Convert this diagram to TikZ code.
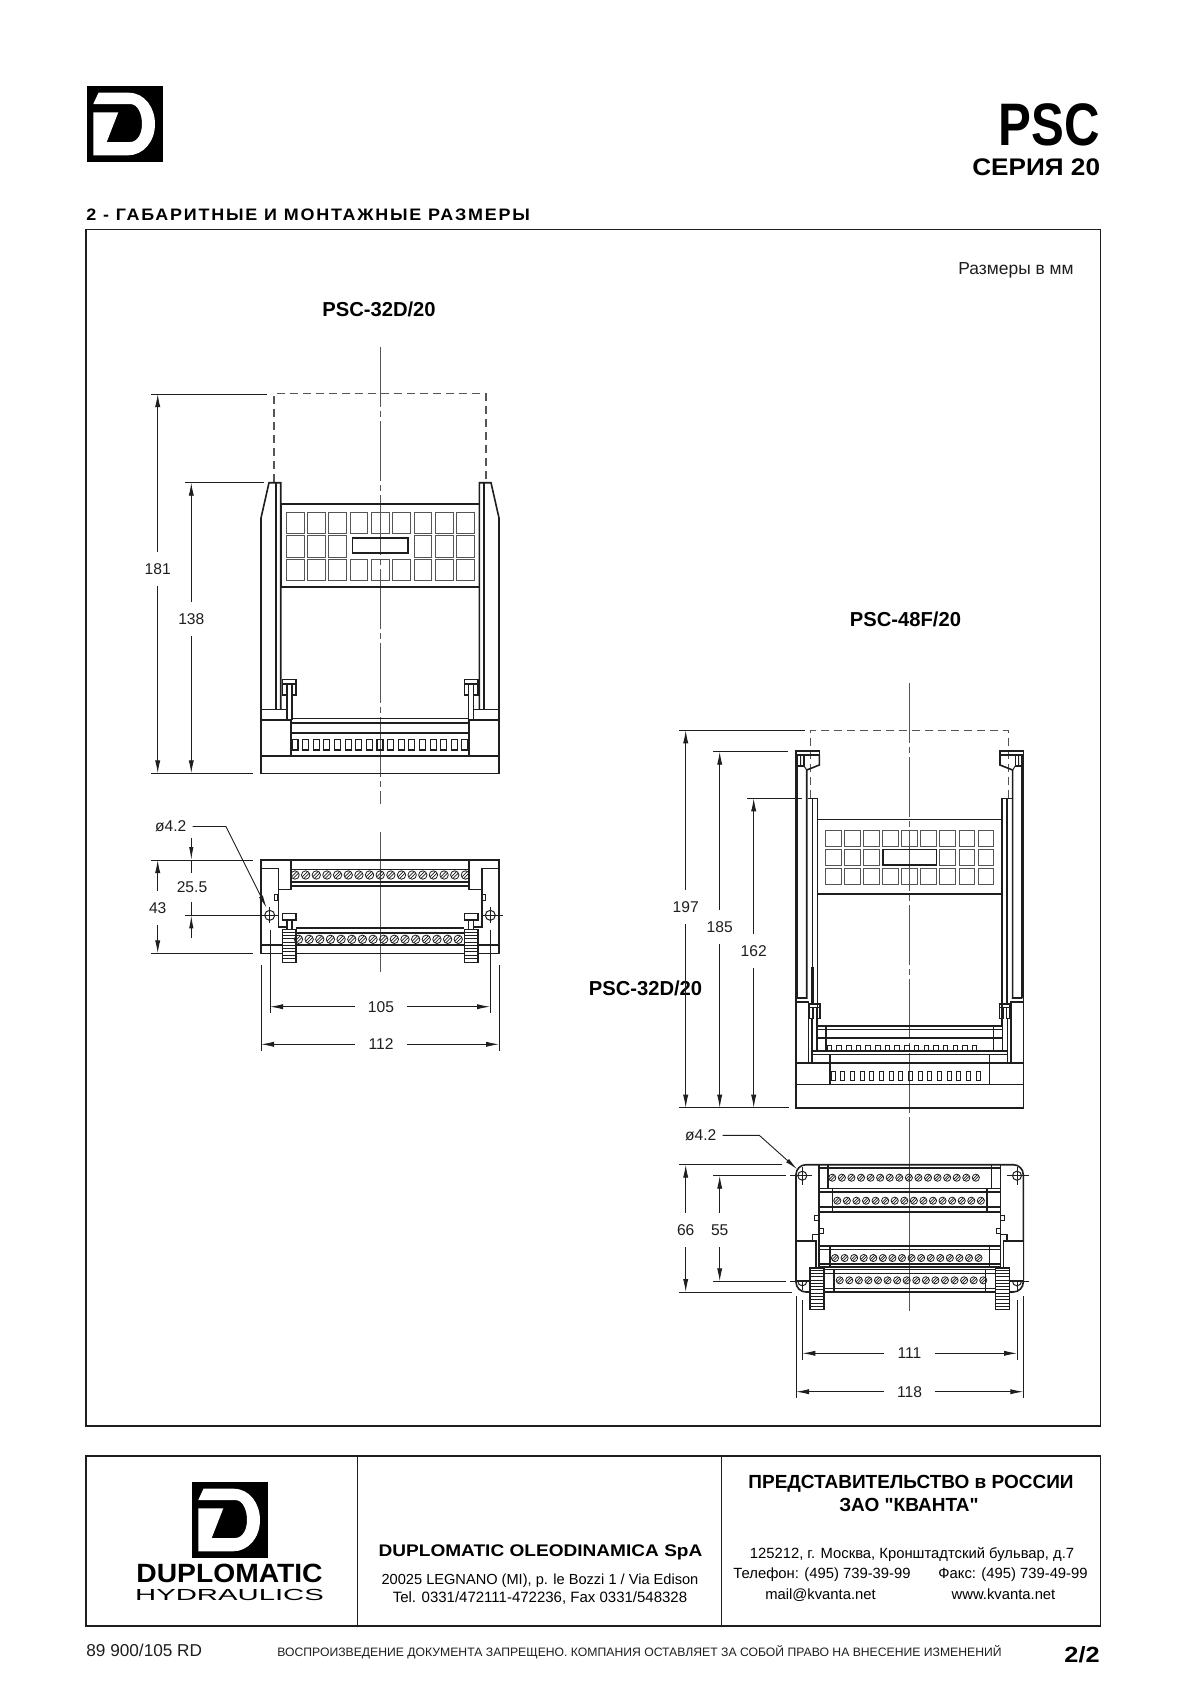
\documentclass[tikz,border=0pt]{standalone}
\usepackage{fontspec}
\setmainfont[Ligatures=TeXOff]{Liberation Sans}
\usetikzlibrary{arrows.meta}
\definecolor{inkc}{HTML}{1E1E1E}
\definecolor{cellc}{HTML}{555555}
\tikzset{
  frameline/.style={draw=inkc,line width=.65pt},
  body/.style={draw=inkc,line width=.8pt},
  fine/.style={draw=inkc,line width=.5pt},
  cell/.style={draw=cellc,line width=.5pt},
  axisline/.style={draw=cellc,line width=.45pt,dash pattern=on 30pt off 2pt on 3pt off 2pt},
  hidden/.style={draw=cellc,line width=.55pt,dash pattern=on 4pt off 2.5pt},
  extline/.style={draw=inkc,line width=.45pt},
  dimline/.style={draw=inkc,line width=.45pt,{Latex[length=6.5pt,width=2.6pt]}-},
  leader/.style={draw=inkc,line width=.45pt,-{Latex[length=6.5pt,width=2.2pt]}},
  dimtext/.style={font=\fontsize{7.8}{9}\selectfont,text=inkc,inner xsep=6.5pt,inner ysep=5.7pt},
  leadtext/.style={font=\fontsize{7.8}{9}\selectfont,text=inkc,inner xsep=3pt,inner ysep=1pt},
  model/.style={font=\bfseries\fontsize{10.1}{12}\selectfont,inner sep=0pt},
  screw/.pic={
    \draw[fine,line width=.4pt] (0,0) circle (4.2);
    \draw[fine,line width=.35pt] (-3.6,2) -- (2,-3.6) (-2,3.6) -- (3.6,-2);
  },
  dlogo/.pic={
    \fill[black] (87,86) rectangle (162.5,162);
    \fill[white] (98.5,92.7) -- (128.5,92.7) .. controls (145,92.7) and (155,108) .. (155,124)
      .. controls (155,142) and (143,155.3) .. (128,155.3) -- (93.3,155.3) -- (93.3,112.3)
      -- (118.3,112.3) -- (106.7,142) -- (130,142) .. controls (138,142) and (142,133) .. (142,124)
      .. controls (142,114) and (138,104) .. (130,104) -- (93.3,104) -- cycle;
  }
}
\begin{document}
\begin{tikzpicture}[x=.5pt,y=-.5pt]
  \useasboundingbox (0,0) rectangle (1200,1698);
  \fill[white] (0,0) rectangle (1200,1698);

  % header
  \pic at (0,0) {dlogo};
  \node (psc) [anchor=base east,inner sep=0pt,font=\bfseries\fontsize{30}{32}\selectfont] at (1100.5,145) {\scalebox{.82}[1]{PSC}};
  \node (series) [anchor=base east,inner sep=0pt,font=\bfseries\fontsize{12}{14}\selectfont] at (1100.5,175.5) {\scalebox{1.09}[1]{СЕРИЯ 20}};
  \node (title) [anchor=base west,inner sep=0pt,font=\bfseries\fontsize{8.3}{10}\selectfont] at (86,220.5) {\scalebox{1.08}[1]{\addfontfeatures{LetterSpace=10}2 - ГАБАРИТНЫЕ И МОНТАЖНЫЕ РАЗМЕРЫ}};
  \draw[frameline] (86,229.5) rectangle (1100.5,1426);
  \node (units) [anchor=base east,inner sep=0pt,font=\fontsize{8.7}{10}\selectfont,text=inkc] at (1074,274) {Размеры в мм};
  \node (m32a) [model] at (379,309) {PSC-32D/20};
  \node (m48f) [model] at (905.5,619) {PSC-48F/20};
  \node (m32b) [model] at (645.5,988) {PSC-32D/20};

  % PSC-32D/20, front view
  \draw[axisline] (380,347) -- (380,804);
  \draw[hidden] (274,481.7) -- (274,393.7) -- (486,393.7) -- (486,481.7);
  \draw[body] (280.7,504) rectangle (479.3,586.7);
  \foreach \i in {0,...,8}
    \foreach \ry in {512.3,559.3}
      \draw[cell] ({286.3+\i*21.3},\ry) rectangle ++(17.7,21.3);
  \foreach \i in {0,1,2,6,7,8}
    \draw[cell] ({286.3+\i*21.3},535.7) rectangle ++(17.7,21.3);
  \draw[body] (352.3,538) rectangle (407.7,553);
  \foreach \mir/\off in {1/0,-1/760} {
  \begin{scope}[shift={(\off,0)},xscale=\mir]
    \draw[body] (261,756) -- (261,518) -- (269,482.7) -- (280.7,482.7) -- (280.7,709.3);
    \draw[body] (276,482.7) -- (276,709.3);
    \draw[body] (261,709.3) -- (286.7,709.3) -- (286.7,720);
    \draw[body] (261,720) -- (291,720) -- (291,756);
    \draw[body] (282.3,679.3) rectangle (295.7,684);
    \draw[body] (282.3,684) rectangle (286.7,695);
    \draw[body] (291.7,684) rectangle (295.7,695);
    \draw[body] (286.7,695) -- (286.7,709.3) (291.7,695) -- (291.7,720);
  \end{scope}
  }
  \draw[body] (291,718.3) -- (469,718.3) (291,722.7) -- (469,722.7) (291,732.7) -- (469,732.7);
  \draw[body] (261,756) rectangle (499,773.3);
  \foreach \i in {0,...,16}
    \draw[body,line width=.55pt] ({292+\i*10.62},739.3) rectangle ++(6,10.7);

  % PSC-32D/20, lower view
  \draw[axisline,dash pattern=on 100pt off 2pt] (380,832) -- (380,972);
  \draw[body] (261,860) rectangle (499,953.3);
  \foreach \mir/\off in {1/0,-1/760} {
  \begin{scope}[shift={(\off,0)},xscale=\mir]
    \draw[body] (261,868.3) -- (278.3,868.3) -- (278.3,926.7) -- (286.7,926.7);
    \draw[body] (291,860) -- (291,889.3) -- (278.3,889.3);
    \draw[body] (261,945) -- (282.3,945);
    \draw[fine] (274.3,894) rectangle (277.7,900);
    \draw[fine] (269.7,915.3) circle (5);
    \draw[extline] (257,915.3) -- (278,915.3) (269.7,907) -- (269.7,923);
    \draw[body] (282.3,913.3) rectangle (295.7,920);
    \draw[body] (286.7,920) -- (286.7,929.3) (291.7,920) -- (291.7,929.3);
    \draw[body,fill=white] (282.3,929.3) rectangle (295.7,962.3);
    \foreach \r in {0,...,8}
      \draw[fine,line width=.35pt] (283,{932+\r*3.3}) -- (295,{932+\r*3.3});
    \draw[extline] (270,930) -- (270,1012.7);
    \draw[extline] (261,965) -- (261,1050.7);
  \end{scope}
  }
  \draw[body] (291,869.3) -- (469,869.3) (291,882) -- (469,882) (291,886) -- (469,886);
  \draw[body] (295.7,927.7) -- (464.3,927.7) (295.7,933) -- (464.3,933) (295.7,945) -- (464.3,945);
  \foreach \i in {0,...,16}
    \pic at ({295+\i*10.65},875) {screw};
  \foreach \i in {0,...,15}
    \pic at ({298.5+\i*10.65},939.3) {screw};

  % PSC-48F/20, front view
  \draw[axisline] (909.6,683) -- (909.6,1127);
  \draw[hidden] (810.7,798) -- (810.7,730.3) -- (1008.6,730.3) -- (1008.6,798);
  \draw[body] (817.3,819.3) rectangle (1002,893.7);
  \foreach \i in {0,...,8}
    \foreach \ry in {830.3,868.3}
      \draw[cell] ({825.3+\i*19.1},\ry) rectangle ++(15.7,16.3);
  \foreach \i in {0,1,2,6,7,8}
    \draw[cell] ({825.3+\i*19.1},849.3) rectangle ++(15.7,16.3);
  \draw[body] (882.7,849.3) rectangle (936.5,865);
  \foreach \mir/\off in {1/0,-1/1819.3} {
  \begin{scope}[shift={(\off,0)},xscale=\mir]
    \draw[body,line width=1.3pt] (797,762) -- (797,998);
    \draw[body] (796,751) rectangle (819.3,755);
    \draw[body] (796,755) -- (796,1107.7);
    \draw[body] (819.3,755) -- (819.3,765) -- (806.7,770) -- (806.7,998) -- (797,998);
    \draw[body] (797.3,755) rectangle (804,766);
    \draw[fine] (800.7,755) -- (800.7,766) (804,766) -- (806.7,770);
    \draw[body] (807.7,798.3) -- (817.3,798.3) -- (817.3,1026);
    \draw[body] (812.3,798.3) -- (812.3,1004);
    \draw[body,line width=1.3pt] (812.3,966.7) -- (812.3,1004);
    \draw[body] (796,1001.7) -- (808.3,1001.7) -- (808.3,1062.7);
    \draw[body] (809.3,1004) rectangle (820,1007.3);
    \draw[body] (809.3,1007.3) rectangle (813,1018.3);
    \draw[body] (816.3,1007.3) rectangle (820,1018.3);
    \draw[body] (811.7,1018.3) -- (811.7,1062.7) (816.7,1018.3) -- (816.7,1051);
    \draw[body] (825.7,1026) -- (825.7,1051);
    \draw[body] (830,1054.3) -- (830,1084.3);
  \end{scope}
  }
  \draw[body] (816.7,1026) -- (1002.6,1026) (816.7,1029.3) -- (1002.6,1029.3) (816.7,1037.7) -- (1002.6,1037.7);
  \draw[body] (811.7,1051) -- (1007.6,1051) (811.7,1054.3) -- (1007.6,1054.3);
  \draw[body] (796,1062.7) -- (1023.3,1062.7);
  \draw[body] (796,1084.3) rectangle (1023.3,1107.7);
  \foreach \i in {0,...,15} {
    \draw[body,line width=.5pt] ({827.3+\i*9.67},1045) rectangle ++(4.6,6);
    \draw[body,line width=.5pt] ({831+\i*9.67},1071.3) rectangle ++(4,9.5);
  }

  % PSC-48F/20, lower view
  \draw[axisline,dash pattern=on 100pt off 2pt] (909.6,1122) -- (909.6,1311);
  \draw[body,rounded corners=5pt] (796,1164.7) rectangle (1023.3,1292);
  \foreach \mir/\off in {1/0,-1/1819.3} {
  \begin{scope}[shift={(\off,0)},xscale=\mir]
    \draw[body] (819,1164.7) -- (819,1266.7);
    \draw[body] (827.7,1164.7) -- (827.7,1188.3);
    \draw[body] (832.3,1188.3) -- (832.3,1211.7);
    \draw[body] (830,1245.7) -- (830,1266.7);
    \draw[body] (834,1269.3) -- (834,1292);
    \draw[fine] (814.7,1215.7) rectangle (818.7,1220);
    \draw[fine] (819.3,1228) rectangle (823.3,1233);
    \draw[fine] (802.3,1175.7) circle (4.5);
    \draw[fine] (802.3,1281.3) circle (4.5);
    \draw[extline] (790,1175.7) -- (812,1175.7) (802.3,1167) -- (802.3,1185);
    \draw[extline] (790,1281.3) -- (812,1281.3) (802.3,1270) -- (802.3,1290);
    \draw[body,fill=white] (796,1240.7) -- (815.7,1240.7) -- (815.7,1281) -- (796,1281) -- cycle;
    \draw[body] (815.7,1240.7) -- (812.3,1240.7) -- (812.3,1234.3) -- (819,1234.3);
    \draw[body,fill=white] (810,1267.7) rectangle (824,1309.3);
    \foreach \r in {0,...,11}
      \draw[fine,line width=.35pt] (810.7,{1270+\r*3.3}) -- (823.3,{1270+\r*3.3});
    \draw[extline] (796,1296) -- (796,1397.7);
    \draw[extline] (802.3,1300) -- (802.3,1360);
  \end{scope}
  }
  \draw[body] (819,1167.7) -- (1000.3,1167.7) (819,1188.3) -- (1000.3,1188.3) (819,1192) -- (1000.3,1192);
  \draw[body] (819,1206.7) -- (1000.3,1206.7) (819,1211.7) -- (1000.3,1211.7);
  \draw[body] (819,1245.7) -- (1000.3,1245.7) (819,1249.3) -- (1000.3,1249.3);
  \draw[body] (819,1264) -- (1000.3,1264) (819,1266.7) -- (1000.3,1266.7);
  \draw[body] (824,1269.3) -- (995.3,1269.3) (824,1273.3) -- (995.3,1273.3) (824,1288.3) -- (995.3,1288.3);
  \foreach \i in {0,...,15} {
    \pic[scale=.85] at ({832.3+\i*9.57},1177.7) {screw};
    \pic[scale=.85] at ({837.3+\i*9.57},1200.7) {screw};
    \pic[scale=.85] at ({835+\i*9.57},1258) {screw};
    \pic[scale=.85] at ({839.7+\i*9.57},1280.3) {screw};
  }

  % dimensions
  \foreach \nm/\xa/\ya/\yb/\yt in {181/157.7/394/773.3/569,138/191.3/482.7/773.3/619,
      43/157.7/860/953.3/908,197/685.7/730.3/1107.7/907,185/719.7/751.7/1107.7/927,
      162/753.7/798.3/1107.7/951,66/685.7/1164.7/1292/1230,55/719.7/1175.7/1281.3/1230} {
    \node (d\nm) [dimtext] at (\xa,\yt) {\nm};
    \coordinate (d\nm a) at (\xa,\ya);
    \coordinate (d\nm b) at (\xa,\yb);
    \draw[dimline] (d\nm a) -- (d\nm);
    \draw[dimline] (d\nm b) -- (d\nm);
  }
  \foreach \nm/\yy/\xa/\xb/\xt in {105/1006.7/270/490/381,112/1044.3/261/499/381,
      111/1353.3/802.3/1017/909.5,118/1391.7/796/1023.3/909.5} {
    \node (d\nm) [dimtext] at (\xt,\yy) {\nm};
    \coordinate (d\nm a) at (\xa,\yy);
    \coordinate (d\nm b) at (\xb,\yy);
    \draw[dimline] (d\nm a) -- (d\nm);
    \draw[dimline] (d\nm b) -- (d\nm);
  }
  \draw[extline] (151,394) -- (267,394) (185,482.7) -- (264,482.7) (151,773.3) -- (253,773.3);
  \draw[extline] (151,860) -- (253,860) (151,953.3) -- (253,953.3) (185,915.3) -- (257,915.3);
  \draw[extline] (679.3,730.3) -- (805,730.3) (713,751.7) -- (788,751.7) (747.3,798.3) -- (802,798.3);
  \draw[extline] (679.3,1107.7) -- (789.3,1107.7);
  \draw[extline] (679.3,1164.7) -- (781.7,1164.7) (679.3,1292) -- (791.7,1292);
  \draw[extline] (713,1175.7) -- (786,1175.7) (713,1281.3) -- (786,1281.3);
  \node (d255) [leadtext] at (192,887) {25.5};
  \coordinate (d255a) at (191.3,838);
  \coordinate (d255b) at (191.3,860);
  \coordinate (d255c) at (191.3,873);
  \coordinate (d255d) at (191.3,938);
  \coordinate (d255e) at (191.3,915.3);
  \coordinate (d255f) at (191.3,902);
  \draw[leader] (d255a) -- (d255b);
  \draw[extline] (d255b) -- (d255c);
  \draw[leader] (d255d) -- (d255e);
  \draw[extline] (d255e) -- (d255f);
  \node (hole1) [leadtext] at (170.7,826.5) {ø4.2};
  \coordinate (bend1) at (226,826.5);
  \coordinate (tip1) at (266.7,908);
  \draw[leader] (hole1.east) -- (bend1) -- (tip1);
  \node (hole2) [leadtext] at (700.7,1135.3) {ø4.2};
  \coordinate (bend2) at (759.3,1135.3);
  \coordinate (tip2) at (797.3,1169.3);
  \draw[leader] (hole2.east) -- (bend2) -- (tip2);

  % footer
  \draw[frameline] (86,1456) rectangle (1100.5,1626);
  \draw[frameline] (357.5,1456) -- (357.5,1626) (721.5,1456) -- (721.5,1626);
  \pic at (105,1396) {dlogo};
  \node (brand) [anchor=base,inner sep=0pt,font=\bfseries\fontsize{13.2}{15}\selectfont] at (229.5,1582) {\scalebox{1.07}[1]{DUPLOMATIC}};
  \node (brandsub) [anchor=base,inner sep=0pt,font=\fontsize{8}{10}\selectfont] at (229.5,1600.5) {\scalebox{1.83}[1]{HYDRAULICS}};
  \node (comp) [anchor=base,inner sep=0pt,font=\bfseries\fontsize{8.4}{10}\selectfont] at (540.5,1556.5) {\scalebox{1.135}[1]{DUPLOMATIC OLEODINAMICA SpA}};
  \node (addr) [anchor=base,inner sep=0pt,font=\fontsize{7.3}{9}\selectfont] at (540,1584.5) {20025 LEGNANO (MI), p. le Bozzi 1 / Via Edison};
  \node (tel) [anchor=base,inner sep=0pt,font=\fontsize{7.5}{9}\selectfont] at (540,1602.5) {Tel. 0331/472111-472236, Fax 0331/548328};
  \node (rep) [anchor=base,inner sep=0pt,font=\bfseries\fontsize{9.5}{11}\selectfont] at (911,1488) {ПРЕДСТАВИТЕЛЬСТВО в РОССИИ};
  \node (rep2) [anchor=base,inner sep=0pt,font=\bfseries\fontsize{9.5}{11}\selectfont] at (909,1511.5) {ЗАО "КВАНТА"};
  \node (ruadr) [anchor=base,inner sep=0pt,font=\fontsize{7.4}{9}\selectfont] at (912,1558) {125212, г. Москва, Кронштадтский бульвар, д.7};
  \node (rutel) [anchor=base,inner sep=0pt,font=\fontsize{7.4}{9}\selectfont] at (822,1578.5) {Телефон: (495) 739-39-99};
  \node (rufax) [anchor=base,inner sep=0pt,font=\fontsize{7.4}{9}\selectfont] at (1013,1578.5) {Факс: (495) 739-49-99};
  \node (rumail) [anchor=base,inner sep=0pt,font=\fontsize{7.4}{9}\selectfont] at (820.5,1599) {mail@kvanta.net};
  \node (ruweb) [anchor=base,inner sep=0pt,font=\fontsize{7.4}{9}\selectfont] at (1003.5,1599) {www.kvanta.net};
  \node (code) [anchor=base west,inner sep=0pt,font=\fontsize{8.6}{10}\selectfont,text=inkc] at (86,1656) {89 900/105 RD};
  \node (notice) [anchor=base,inner sep=0pt,font=\fontsize{6.1}{8}\selectfont,text=inkc] at (639.5,1656.5) {ВОСПРОИЗВЕДЕНИЕ ДОКУМЕНТА ЗАПРЕЩЕНО. КОМПАНИЯ ОСТАВЛЯЕТ ЗА СОБОЙ ПРАВО НА ВНЕСЕНИЕ ИЗМЕНЕНИЙ};
  \node (page) [anchor=base east,inner sep=0pt,font=\bfseries\fontsize{11}{13}\selectfont] at (1100,1662) {\scalebox{1.15}[1]{2/2}};
\end{tikzpicture}
\end{document}
